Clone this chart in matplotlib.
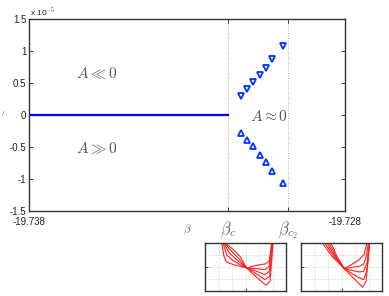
import matplotlib
matplotlib.use('Agg')
import matplotlib.pyplot as plt

plt.rcParams['mathtext.fontset'] = 'cm'
plt.rcParams['font.family'] = 'Liberation Sans'
plt.rcParams['axes.unicode_minus'] = False

# main panel data (y in units of 1e-5)
x_min = -19.738
x_max = -19.728
beta_c = -19.7317
beta_c2 = -19.7298
flat_x = [-19.738, -19.7317]
flat_y = [0.0, 0.0]
up_x = [-19.73129, -19.7311, -19.7309, -19.7307, -19.7305, -19.7303, -19.72995]
up_y = [0.29, 0.40, 0.52, 0.63, 0.74, 0.87, 1.08]
dn_x = [-19.73129, -19.7311, -19.7309, -19.7307, -19.7305, -19.7303, -19.72995]
dn_y = [-0.28, -0.39, -0.49, -0.62, -0.73, -0.87, -1.06]
yticks = [-1.5, -1, -0.5, 0, 0.5, 1, 1.5]
ytick_labels = ['-1.5', '-1', '-0.5', '0', '0.5', '1', '1.5']

# inset curves (normalised inset coordinates)
left_curves_x = [
    [0.202, 0.231, 0.264, 0.347, 0.512, 0.636, 0.740, 0.789, 0.810, 0.822],
    [0.215, 0.264, 0.326, 0.430, 0.512, 0.636, 0.740, 0.793, 0.814, 0.826],
    [0.223, 0.298, 0.388, 0.512, 0.636, 0.740, 0.793, 0.818, 0.831],
    [0.231, 0.326, 0.409, 0.512, 0.636, 0.740, 0.798, 0.822, 0.835],
    [0.240, 0.347, 0.430, 0.512, 0.636, 0.752, 0.802, 0.826, 0.839],
]
left_curves_y = [
    [1.02, 0.729, 0.611, 0.556, 0.486, 0.542, 0.569, 0.625, 0.833, 1.02],
    [1.02, 0.764, 0.660, 0.556, 0.486, 0.472, 0.451, 0.521, 0.833, 1.02],
    [1.02, 0.799, 0.660, 0.486, 0.417, 0.347, 0.417, 0.764, 1.02],
    [1.02, 0.833, 0.694, 0.486, 0.361, 0.243, 0.313, 0.764, 1.02],
    [1.02, 0.868, 0.729, 0.486, 0.292, 0.125, 0.208, 0.694, 1.02],
]
right_curves_x = [
    [0.256, 0.380, 0.533, 0.636, 0.719, 0.760, 0.802, 0.826, 0.843],
    [0.285, 0.401, 0.533, 0.636, 0.719, 0.773, 0.810, 0.835, 0.843],
    [0.314, 0.417, 0.533, 0.636, 0.719, 0.773, 0.814, 0.835, 0.839],
    [0.339, 0.430, 0.533, 0.636, 0.719, 0.773, 0.810, 0.831],
    [0.364, 0.442, 0.533, 0.636, 0.719, 0.781, 0.814],
]
right_curves_y = [
    [1.02, 0.729, 0.472, 0.292, 0.153, 0.083, 0.208, 0.625, 1.02],
    [1.02, 0.729, 0.472, 0.361, 0.278, 0.243, 0.417, 0.764, 1.02],
    [1.02, 0.729, 0.472, 0.431, 0.403, 0.417, 0.590, 0.903, 1.02],
    [1.02, 0.729, 0.472, 0.500, 0.521, 0.569, 0.764, 1.02],
    [1.02, 0.729, 0.472, 0.569, 0.660, 0.778, 1.02],
]

fig = plt.figure(figsize=(3.89, 2.96), dpi=100)
ax = fig.add_axes([29 / 389, 1 - 211 / 296, 316 / 389, 192 / 296])

ax.axvline(beta_c, color='#999999', lw=0.6, ls=(0, (1, 2)), zorder=1)
ax.axvline(beta_c2, color='#999999', lw=0.6, ls=(0, (1, 2)), zorder=1)
ax.plot(flat_x, flat_y, color='#0000ff', lw=1.6, zorder=2)
ax.plot(up_x, up_y, 'v', ms=4.5, mfc='white', mec='#0033ff', mew=1.3, zorder=3)
ax.plot(dn_x, dn_y, '^', ms=4.5, mfc='white', mec='#0033ff', mew=1.3, zorder=3)

ax.set_xlim(x_min, x_max)
ax.set_ylim(-1.5, 1.5)
ax.set_yticks(yticks)
ax.set_yticklabels(ytick_labels)
ax.set_xticks([x_min, beta_c, beta_c2, x_max])
ax.set_xticklabels(['-19.738', '', '', '-19.728'])
ax.tick_params(direction='in', length=3, width=0.6, top=True, right=True,
               labelsize=7, pad=2, colors='#222222')
ax.tick_params(axis='x', pad=4)
for s in ax.spines.values():
    s.set_linewidth(1.0)
    s.set_color('#333333')

ax.text(-19.73585, 0.65, r'$A \ll 0$', fontsize=11, color='#555555', ha='center', va='center')
ax.text(-19.73585, -0.52, r'$A \gg 0$', fontsize=11, color='#555555', ha='center', va='center')
ax.text(-19.7298, -0.03, r'$A \approx 0$', fontsize=11, color='#555555', ha='right', va='center')

fig.text(30 / 389, 1 - 12 / 296, r'x 10$^{-5}$', fontsize=6, color='#222222', va='center')
fig.text(2 / 389, 1 - 115 / 296, '/', fontsize=6, color='#777777', va='center')

ax.text(beta_c, -0.1, r'$\beta_c$', transform=ax.get_xaxis_transform(),
        fontsize=12, color='#666666', ha='center', va='center')
ax.text(beta_c2, -0.1, r'$\beta_{c_2}$', transform=ax.get_xaxis_transform(),
        fontsize=12, color='#666666', ha='center', va='center')
ax.text(-19.733, -0.1, r'$\beta$', transform=ax.get_xaxis_transform(),
        fontsize=8, color='#666666', ha='center', va='center')

# insets
for left, cx, cy in [(205.3, left_curves_x, left_curves_y),
                     (301.3, right_curves_x, right_curves_y)]:
    ia = fig.add_axes([left / 389, 1 - 291.3 / 296, 80.7 / 389, 48 / 296])
    for xs, ys in zip(cx, cy):
        ia.plot(xs, ys, color='#ff2222', lw=0.8)
    ia.set_xlim(0, 1)
    ia.set_ylim(0, 1)
    ia.set_xticks([0.5])
    ia.set_yticks([0.5])
    ia.set_xticks([1 / 6, 2 / 6, 4 / 6, 5 / 6], minor=True)
    ia.set_yticks([0.25, 0.75], minor=True)
    ia.set_xticklabels([])
    ia.set_yticklabels([])
    ia.grid(True, which='both', color='#bbbbbb', lw=0.5, ls=(0, (1, 2)))
    ia.tick_params(which='major', direction='in', length=2, width=0.5)
    ia.tick_params(which='minor', length=0)
    for s in ia.spines.values():
        s.set_linewidth(1.0)
        s.set_color('#333333')

plt.savefig('out.png', dpi=100)
plt.close()
